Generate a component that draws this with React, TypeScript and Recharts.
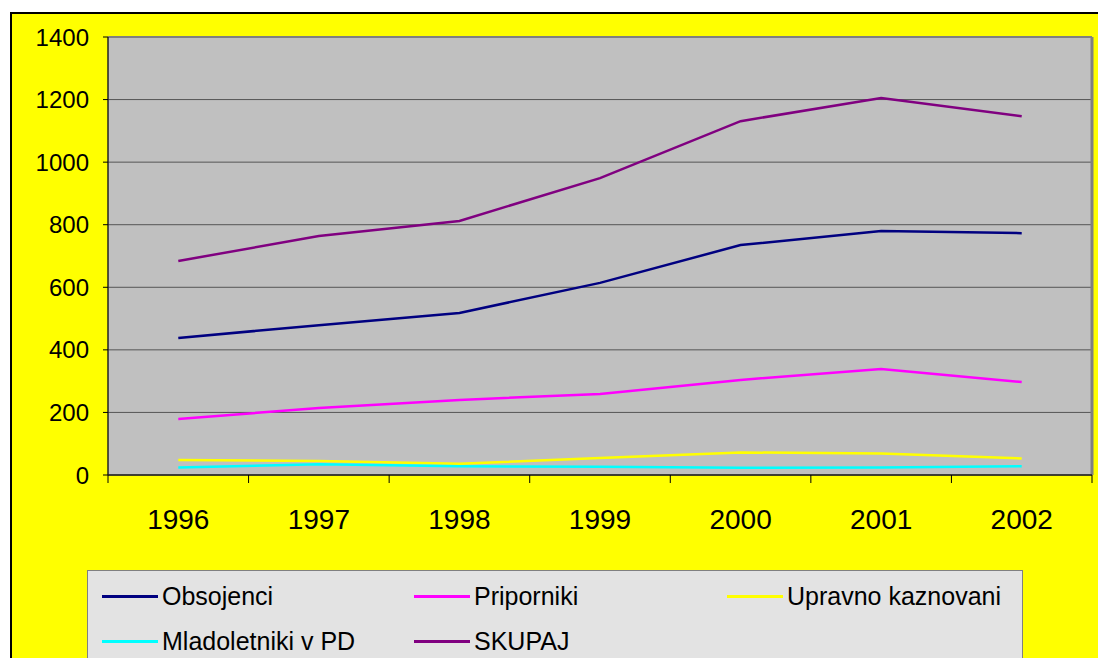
import React from 'react';
import { LineChart, Line, XAxis, YAxis, CartesianGrid, ReferenceLine } from 'recharts';

const years = ['1996', '1997', '1998', '1999', '2000', '2001', '2002'];
const obsojenci = [438, 479, 518, 614, 735, 780, 773];
const priporniki = [179, 214, 240, 259, 304, 339, 297];
const upravno = [48, 45, 36, 54, 72, 69, 53];
const mladoletniki = [24, 34, 28, 26, 23, 24, 28];
const skupaj = [684, 764, 812, 949, 1131, 1205, 1147];
const yTicks = [0, 200, 400, 600, 800, 1000, 1200, 1400];

const SERIES = [
  { key: 'obsojenci', name: 'Obsojenci', color: '#000080' },
  { key: 'priporniki', name: 'Priporniki', color: '#FF00FF' },
  { key: 'upravno', name: 'Upravno kaznovani', color: '#FFFF00' },
  { key: 'mladoletniki', name: 'Mladoletniki v PD', color: '#00FFFF' },
  { key: 'skupaj', name: 'SKUPAJ', color: '#800080' },
];

// x sits in the middle of each category, Excel style
const data = years.map((y, i) => ({
  x: i + 0.5,
  year: y,
  obsojenci: obsojenci[i],
  priporniki: priporniki[i],
  upravno: upravno[i],
  mladoletniki: mladoletniki[i],
  skupaj: skupaj[i],
}));

const xTicks: number[] = [];
for (let i = 0; i <= years.length * 2; i++) xTicks.push(i / 2);

const FONT = 'Arial, "Liberation Sans", sans-serif';

const XTick = (props: any) => {
  const { x, y, payload } = props;
  const v = payload.value as number;
  if (Number.isInteger(v)) {
    return <line x1={x} x2={x} y1={y} y2={y + 8} stroke="#000" strokeWidth={1} />;
  }
  return (
    <text x={x} y={y + 54} textAnchor="middle" fontSize={28} fontFamily={FONT} fill="#000">
      {years[Math.floor(v)]}
    </text>
  );
};

const LegendBox = () => (
  <div
    style={{
      position: 'absolute',
      left: 87,
      top: 570,
      width: 936,
      height: 100,
      boxSizing: 'border-box',
      background: '#E3E3E3',
      border: '1px solid #808080',
      paddingTop: 3,
      paddingLeft: 14,
      display: 'grid',
      gridTemplateColumns: '312px 313px 300px',
      gridAutoRows: '45px',
      fontFamily: FONT,
      fontSize: 25,
      color: '#000',
    }}
  >
    {SERIES.map(s => (
      <div key={s.key} style={{ display: 'flex', alignItems: 'center' }}>
        <span style={{ display: 'inline-block', width: 56, height: 3, background: s.color, marginRight: 4 }} />
        <span>{s.name}</span>
      </div>
    ))}
  </div>
);

export default function App() {
  return (
    <div style={{ position: 'absolute', left: 0, top: 0, width: 1098, height: 658, overflow: 'hidden', background: '#fff' }}>
      <div
        style={{
          position: 'absolute',
          left: 10,
          top: 12,
          width: 1100,
          height: 660,
          background: '#FFFF00',
          borderTop: '2px solid #000',
          borderLeft: '2px solid #000',
        }}
      />
      <div style={{ position: 'absolute', left: 0, top: 0 }}>
        <LineChart width={1098} height={658} data={data} margin={{ top: 37, right: 6, left: 10, bottom: 123 }}>
          <CartesianGrid vertical={false} fill="#C0C0C0" stroke="#555555" strokeWidth={1} />
          <XAxis
            dataKey="x"
            type="number"
            domain={[0, years.length]}
            ticks={xTicks}
            interval={0}
            height={60}
            tickSize={0}
            tickMargin={0}
            tickLine={false}
            tick={<XTick />}
            axisLine={{ stroke: '#222', strokeWidth: 1.5 }}
          />
          <YAxis
            domain={[0, 1400]}
            ticks={yTicks}
            width={98}
            tickSize={5}
            tickMargin={14}
            tickLine={{ stroke: '#000' }}
            axisLine={{ stroke: '#222', strokeWidth: 1.5 }}
            tick={{ fontSize: 24, fill: '#000', fontFamily: FONT }}
          />
          <ReferenceLine y={1400} stroke="#808080" strokeWidth={2} />
          <ReferenceLine x={years.length} stroke="#808080" strokeWidth={3} />
          {SERIES.map(s => (
            <Line
              key={s.key}
              dataKey={s.key}
              name={s.name}
              stroke={s.color}
              strokeWidth={2.5}
              dot={false}
              isAnimationActive={false}
            />
          ))}
        </LineChart>
      </div>
      <LegendBox />
    </div>
  );
}
